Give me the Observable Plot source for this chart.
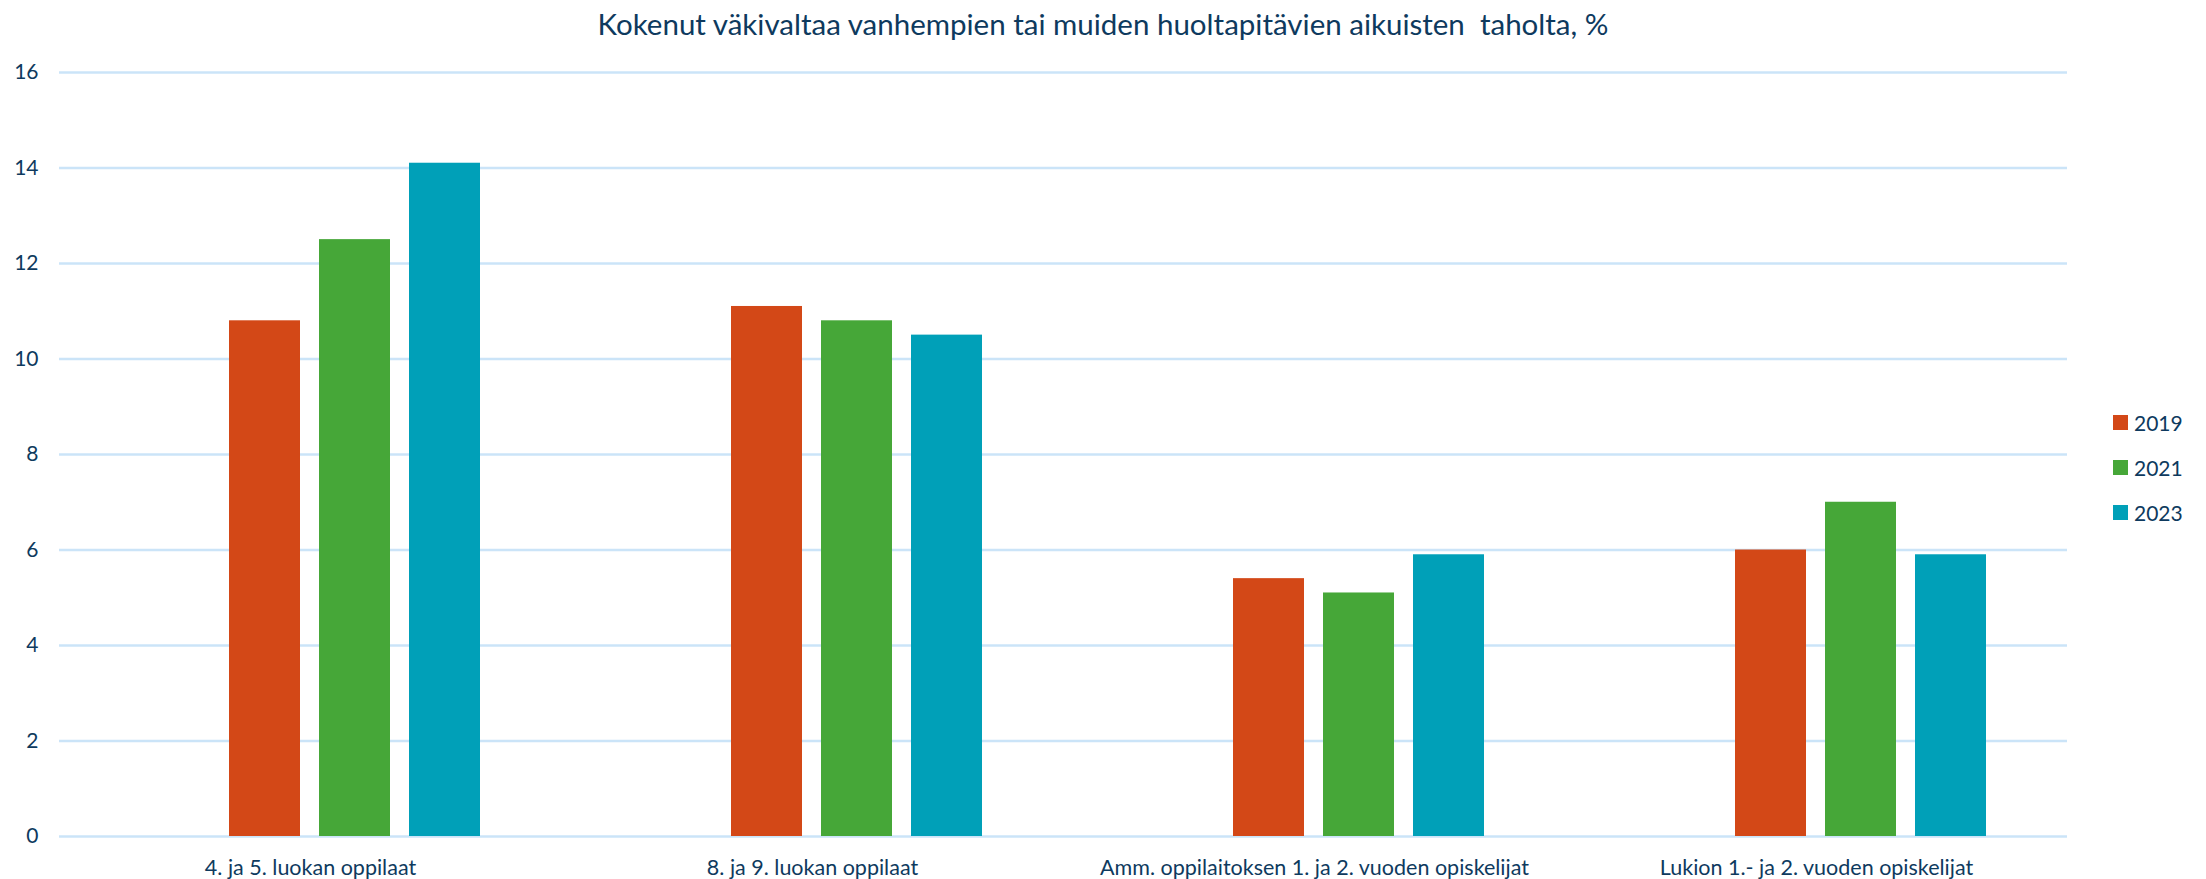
<!DOCTYPE html>
<html>
<head>
<meta charset="utf-8">
<script src="https://cdn.jsdelivr.net/npm/d3@7"></script>
<script src="https://cdn.jsdelivr.net/npm/@observablehq/plot@0.6"></script>
<style>
  html, body { margin: 0; padding: 0; background: #fff; }
  body { width: 2206px; height: 879px; position: relative; overflow: hidden; font-family: Lato, "Open Sans", sans-serif; color: #0e3a5e; }
  #title { height: 48px; line-height: 48px; text-align: center; font-size: 29.5px; color: #0e3a5e; white-space: pre; }
  #legend { position: absolute; left: 2113px; top: 400px; }
  .lg-row { display: flex; align-items: center; height: 45px; font-size: 21px; color: #0e3a5e; }
  .lg-sw { width: 15px; height: 15px; margin-right: 6px; }
</style>
</head>
<body>
<div id="title">Kokenut väkivaltaa vanhempien tai muiden huoltapitävien aikuisten  taholta, %</div>
<div id="chart"></div>
<div id="legend"></div>
<script>
const categories = [
  "4. ja 5. luokan oppilaat",
  "8. ja 9. luokan oppilaat",
  "Amm. oppilaitoksen 1. ja 2. vuoden opiskelijat",
  "Lukion 1.- ja 2. vuoden opiskelijat"
];
const years = ["2019", "2021", "2023"];
const values2019 = [10.8, 11.1, 5.4, 6.0];
const values2021 = [12.5, 10.8, 5.1, 7.0];
const values2023 = [14.1, 10.5, 5.9, 5.9];
const colors = ["#D34817", "#46A738", "#00A0B8"];
const yTicks = [0, 2, 4, 6, 8, 10, 12, 14, 16];

const series = [values2019, values2021, values2023];
const data = [];
categories.forEach((c, i) => {
  years.forEach((y, j) => data.push({group: c, year: y, value: series[j][i]}));
});

const textColor = "#0e3a5e";
const gridColor = "#CBE4F8";

const chart = Plot.plot({
  width: 2206,
  height: 831,
  marginTop: 24,
  marginBottom: 43,
  marginLeft: 57,
  marginRight: 138,
  style: {fontFamily: "Lato, 'Open Sans', sans-serif", fontSize: "21px", color: textColor, background: "#fff"},
  fx: {domain: categories, padding: 0, label: null},
  x: {domain: [" ", ...years], paddingInner: 0.209, paddingOuter: 0.868, axis: null},
  y: {domain: [0, 16], label: null},
  color: {domain: years, range: colors},
  marks: [
    Plot.gridY(yTicks, {stroke: gridColor, strokeOpacity: 1, strokeWidth: 2.5}),
    Plot.axisY(yTicks, {tickSize: 0, tickPadding: 21, fill: textColor, fontSize: 21, label: null}),
    Plot.axisFx({anchor: "bottom", tickSize: 0, tickPadding: 23, fill: textColor, fontSize: 21.5, label: null}),
    Plot.barY(data, {fx: "group", x: "year", y: "value", fill: "year"})
  ]
});
document.getElementById("chart").appendChild(chart);

const legend = d3.select("#legend");
years.forEach((y, i) => {
  const row = legend.append("div").attr("class", "lg-row");
  row.append("div").attr("class", "lg-sw").style("background", colors[i]);
  row.append("span").text(y);
});
</script>
</body>
</html>
